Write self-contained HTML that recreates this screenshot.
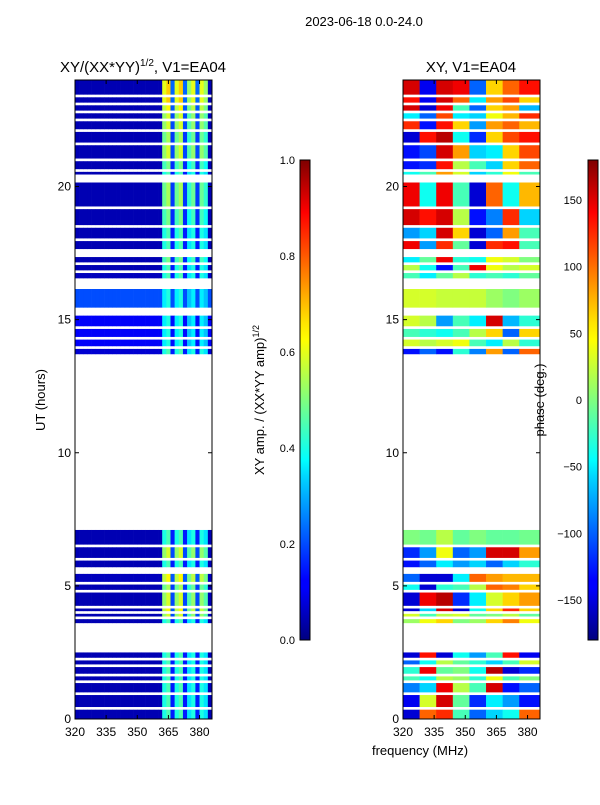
<!DOCTYPE html>
<html><head><meta charset="utf-8"><style>
body{margin:0;background:#fff;width:600px;height:800px;overflow:hidden}
svg{font-family:"Liberation Sans",sans-serif}
</style></head><body>
<svg id="fig" width="600" height="800" viewBox="0 0 600 800" xmlns="http://www.w3.org/2000/svg">
<defs>
<linearGradient id="jet" x1="0" y1="1" x2="0" y2="0">
<stop offset="0" stop-color="#00007f"/><stop offset="0.11" stop-color="#0000ff"/><stop offset="0.125" stop-color="#0000ff"/>
<stop offset="0.34" stop-color="#00d5ff"/><stop offset="0.375" stop-color="#00ffff"/><stop offset="0.5" stop-color="#7fff7f"/>
<stop offset="0.625" stop-color="#ffff00"/><stop offset="0.66" stop-color="#ffe500"/><stop offset="0.89" stop-color="#ff0000"/><stop offset="1" stop-color="#7f0000"/>
</linearGradient>
</defs>
<text x="364" y="26" font-size="13" text-anchor="middle">2023-06-18 0.0-24.0</text>
<text x="143" y="72" font-size="15" text-anchor="middle">XY/(XX*YY)<tspan font-size="10" dy="-6">1/2</tspan><tspan dy="6">, V1=EA04</tspan></text>
<text x="471" y="72" font-size="15" text-anchor="middle">XY, V1=EA04</text>
<text x="45" y="400" font-size="13" text-anchor="middle" transform="rotate(-90 45 400)">UT (hours)</text>
<text x="264" y="400" font-size="13" text-anchor="middle" transform="rotate(-90 264 400)">XY amp. / (XX*YY amp)<tspan font-size="9" dy="-5">1/2</tspan></text>
<text x="544" y="400" font-size="13" text-anchor="middle" transform="rotate(-90 544 400)">phase (deg.)</text>
<text x="420" y="755" font-size="13" text-anchor="middle">frequency (MHz)</text>
<g id="left"></g>
<g id="right"></g>
<g id="axes"></g>
<rect x="300" y="160" width="10" height="480" fill="url(#jet)" stroke="#000" stroke-width="1"/>
<rect x="588" y="160" width="10" height="480" fill="url(#jet)" stroke="#000" stroke-width="1"/>
</svg>
<script>
const segments=[[0,0.35],[0.45,0.9],[1.0,1.35],[1.45,1.6],[1.7,1.95],[2.05,2.2],[2.3,2.5],
[3.6,3.75],[3.85,3.95],[4.05,4.15],[4.25,4.75],[4.85,5.05],[5.15,5.45],[5.7,5.95],[6.05,6.45],[6.55,7.1],
[13.7,13.9],[14.0,14.25],[14.35,14.65],[14.75,15.15],[15.45,16.15],[16.55,16.75],[16.85,17.05],[17.15,17.35],[17.65,17.95],[18.05,18.45],[18.55,19.15],[19.25,20.15],[20.45,20.55],[20.65,20.95],[21.05,21.55],[21.65,22.05],[22.15,22.45],[22.55,22.75],[22.85,23.05],[23.15,23.35],[23.45,24]];
const ampBase=[0.05,0.05,0.05,0.05,0.05,0.05,0.05,0.05,0.05,0.05,0.05,0.05,0.06,0.05,0.05,0.05,0.08,0.12,0.12,0.12,0.2,0.06,0.05,0.05,0.05,0.05,0.05,0.05,0.05,0.05,0.05,0.05,0.05,0.05,0.05,0.05,0.05];
const ampGain=[1,1,1,1,1,1,1,1,1.3,1.4,1.3,1.2,1.4,1,1.3,1,1,0.9,0.9,0.9,0.9,1,1,1.1,1,1,1.1,1.2,1,1.1,1.3,1.2,1.3,1.3,1.4,1.5,1.5];
const ampFreqBins=[320,322,324,326,328,330,332,334,336,338,340,342,344,346,348,350,352,354,356,358,360,362,364,366,368,370,372,374,376,378,380,382,384];
const ampProfile=[0,0,0,0,0,0,0,0,0,0,0,0,0,0,0,0,0,0,0,0,0,0.4,0.45,0.15,0.4,0.45,0.15,0.35,0.4,0.15,0.4,0.35,0];
const phaseFreqBins=[320,328,336,344,352,360,368,376];
const phaseValues=[
[-150,100,120,-20,-100,-60,-40,100],[-140,30,150,-10,-120,-50,-80,-130],[-90,-60,140,20,-20,150,-130,-100],[-20,-40,20,10,-30,40,-20,0],[-30,140,-10,0,-40,160,-150,-120],[-100,-40,20,-10,-30,-60,-20,30],[-150,130,-150,-40,-80,-20,130,-140],
[10,40,60,0,10,60,90,40],[30,-20,20,30,-10,0,20,-10],[-150,-60,150,-150,-40,60,120,60],[-150,140,160,-120,-50,30,60,80],[-40,-150,-30,-20,20,100,90,60],[-100,-150,-150,-50,100,80,70,70],[-130,-100,-50,-80,-60,-100,-60,-30],[-120,-80,40,-100,-80,150,150,80],[0,-5,20,-10,0,-10,-10,-5],
[-130,-100,-130,-30,-90,80,-100,100],[30,20,30,40,-20,-50,20,-30],[-20,-30,-40,-20,20,60,-100,60],[30,20,-80,-20,-50,150,-70,-30],[30,30,25,25,25,10,0,10],[-20,-50,-10,20,-30,-20,-30,-10],[20,-40,-130,-20,140,40,20,30],[-50,-10,140,-30,-40,40,30,0],[140,-80,120,-10,-150,120,130,-20],[-80,-60,150,60,-150,-100,80,-20],[150,130,150,20,-130,-90,120,-60],[140,-40,140,-20,-150,100,-40,70],[-40,-20,80,30,-60,-30,40,-20],[-130,-120,130,20,-20,-60,60,100],[-130,-110,150,80,-60,-50,60,110],[-150,130,160,-40,-120,60,110,130],[120,-130,130,60,-80,80,100,70],[-50,-100,110,-50,-60,40,70,120],[150,-150,140,-20,-100,60,80,-70],[130,-140,150,100,-50,80,110,60],[150,-140,150,140,-100,60,100,130]];
const yTicks=[0,5,10,15,20];
const xTicks=[320,335,350,365,380];
const ampTicks=[0.0,0.2,0.4,0.6,0.8,1.0];
const phaseTicks=[-150,-100,-50,0,50,100,150];

const NS="http://www.w3.org/2000/svg";
const T0=719,T1=80,FMIN=320,FMAX=386;
function yS(h){return T0+(T1-T0)*h/24;}
function xS(f,x0){return x0+(f-FMIN)*137/(FMAX-FMIN);}
function cl(v){return Math.max(0,Math.min(1,v));}
function jet(x){x=cl(x);const r=cl(1.5-Math.abs(4*x-3)),g=cl(1.5-Math.abs(4*x-2)),b=cl(1.5-Math.abs(4*x-1));return `rgb(${Math.round(r*255)},${Math.round(g*255)},${Math.round(b*255)})`;}
function mk(tag,attrs,parent){const e=document.createElementNS(NS,tag);for(const k in attrs)e.setAttribute(k,attrs[k]);parent.appendChild(e);return e;}
const L=document.getElementById('left'),R=document.getElementById('right'),A=document.getElementById('axes');
segments.forEach((s,i)=>{
 const y=yS(s[1]),h=yS(s[0])-y;
 ampFreqBins.forEach((f,j)=>{
  const f2=j+1<ampFreqBins.length?ampFreqBins[j+1]:FMAX;
  const v=Math.max(ampBase[i],ampProfile[j]*ampGain[i]);
  const c=mk('rect',{x:xS(f,75),y:y,width:xS(f2,75)-xS(f,75)+0.3,height:h,fill:jet(v)},L);
  
  
 });
 phaseFreqBins.forEach((f,j)=>{
  const f2=j+1<phaseFreqBins.length?phaseFreqBins[j+1]:FMAX;
  const v=(phaseValues[i][j]+180)/360;
  const c=mk('rect',{x:xS(f,403),y:y,width:xS(f2,403)-xS(f,403)+0.3,height:h,fill:jet(v)},R);
  
  
 });
});
[75,403].forEach(x0=>{
 const f=mk('rect',{x:x0,y:80,width:137,height:639,fill:'none',stroke:'#000','stroke-width':1},A);
 
 
 yTicks.forEach(t=>{
  const y=yS(t);
  mk('line',{x1:x0,x2:x0+4,y1:y,y2:y,stroke:'#000'},A);
  mk('line',{x1:x0+137,x2:x0+133,y1:y,y2:y,stroke:'#000'},A);
  const tx=mk('text',{x:x0-4,y:y+4,'font-size':12,'text-anchor':'end'},A);tx.textContent=t;
  
  
 });
 xTicks.forEach(t=>{
  const x=xS(t,x0);
  mk('line',{x1:x,x2:x,y1:719,y2:715,stroke:'#000'},A);
  mk('line',{x1:x,x2:x,y1:80,y2:84,stroke:'#000'},A);
  const tx=mk('text',{x:x,y:736,'font-size':12,'text-anchor':'middle'},A);tx.textContent=t;
  
  
 });
});
ampTicks.forEach(t=>{
 const y=640-t*480;
 mk('line',{x1:300,x2:303,y1:y,y2:y,stroke:'#000'},A);mk('line',{x1:310,x2:307,y1:y,y2:y,stroke:'#000'},A);
 const tx=mk('text',{x:295,y:y+4,'font-size':11,'text-anchor':'end'},A);tx.textContent=t.toFixed(1);
 
 
});
phaseTicks.forEach(t=>{
 const y=400-t/180*240;
 mk('line',{x1:588,x2:591,y1:y,y2:y,stroke:'#000'},A);mk('line',{x1:598,x2:595,y1:y,y2:y,stroke:'#000'},A);
 const tx=mk('text',{x:582,y:y+4,'font-size':11,'text-anchor':'end'},A);tx.textContent=t<0?'\u2212'+(-t):t;
 
 
});
</script>
</body></html>
